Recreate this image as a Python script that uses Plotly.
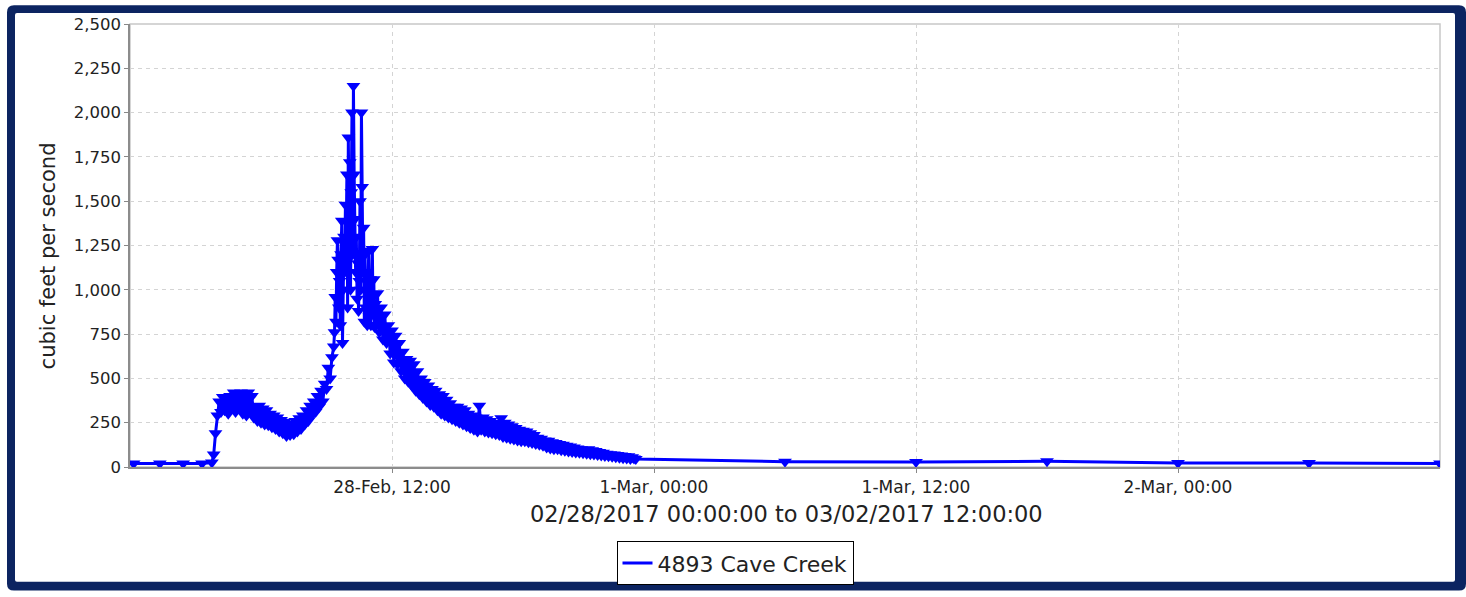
import pandas as pd
import plotly.graph_objects as go

# ---- Streamflow readings, station 4893 Cave Creek (cfs) ----
# sparse readings before the storm arrived
pre_times = ["2017-02-28 00:10", "2017-02-28 01:22", "2017-02-28 02:26", "2017-02-28 03:18"]
pre_flow = [20, 20, 20, 20]

# 5-minute readings on the rising limb, starting 03:45
rise_start = "2017-02-28 03:45"
rise_flow = [
    25, 70, 190,                                                   # 03:45-03:55
    290, 370, 310, 395, 320, 385, 300, 400, 330, 420, 310, 415,    # 04
    330, 420, 300, 410, 290, 420, 310, 400, 280, 340, 260, 345,    # 05
    250, 330, 240, 320, 235, 300, 225, 290, 215, 280, 200, 265,    # 06
    190, 255, 175, 245, 180, 240, 185, 260, 200, 275, 215, 290,    # 07
    240, 320, 260, 345, 290, 370, 310, 400, 340, 430, 370, 470,    # 08
    440, 560, 500, 620,                                            # 09:00-09:15
]

# 2-minute readings around the crest, starting 09:20
crest_start = "2017-02-28 09:20"
crest_flow = [
    680, 760, 960, 820, 1100, 1280, 1170, 900, 1050, 800,
    1200, 1390, 700, 1000, 1300, 1100, 1480, 1250, 1650, 900,
    1860, 1380, 1720, 1000, 1550, 2000, 1200, 2150, 1650, 1400,
    1100, 1300, 950, 1150, 880, 1050, 1500, 1000, 2000, 1580,
    1100, 1350, 820, 1200, 900, 1100, 800, 1000, 1220, 850,
    1060, 800, 950, 1230, 860, 1060, 790, 920, 800, 880,
]

# 5-minute readings on the recession, starting 11:20
fall_start = "2017-02-28 11:20"
fall_flow = [
    980, 760, 900, 720, 860, 700, 800, 640,                        # 11:20-11:55
    770, 590, 740, 580, 700, 540, 650, 500, 610, 480, 600, 460,    # 12
    580, 430, 540, 410, 500, 390, 480, 370, 460, 350, 440, 340,    # 13
    430, 320, 410, 300, 400, 290, 380, 280, 360, 270, 340, 260,    # 14
    340, 250, 330, 240, 320, 230, 300, 220, 290, 210, 280, 200,    # 15
    345, 210, 280, 200, 270, 195, 260, 190, 250, 185, 240, 180,    # 16
    275, 170, 250, 165, 240, 160, 230, 155, 220, 150, 210, 145,    # 17
    205, 145, 200, 140, 190, 135, 180, 130, 165, 125, 160, 120,    # 18
    150, 110, 148, 105, 140, 100, 135, 100, 130, 95, 125, 92,      # 19
    120, 88, 115, 85, 110, 82, 105, 80, 100, 78, 98, 75,           # 20
    100, 72, 95, 70, 90, 68, 85, 65, 80, 62, 75, 60,               # 21
    72, 58, 70, 55, 68, 52, 65, 50, 62, 48, 60, 45,                # 22
    55, 48, 45,                                                    # 23:00-23:10
]

# six-hourly readings on the recession tail
tail_times = ["2017-03-01 06:00", "2017-03-01 12:00", "2017-03-01 18:00",
              "2017-03-02 00:00", "2017-03-02 06:00", "2017-03-02 12:00"]
tail_flow = [30, 28, 32, 22, 22, 20]

# axis labelling
x_ticks = ["2017-02-28 12:00", "2017-03-01 00:00", "2017-03-01 12:00", "2017-03-02 00:00"]
y_ticks = [0, 250, 500, 750, 1000, 1250, 1500, 1750, 2000, 2250, 2500]

times = (list(pd.to_datetime(pre_times))
         + list(pd.date_range(rise_start, periods=len(rise_flow), freq="5min"))
         + list(pd.date_range(crest_start, periods=len(crest_flow), freq="2min"))
         + list(pd.date_range(fall_start, periods=len(fall_flow), freq="5min"))
         + list(pd.to_datetime(tail_times)))
flow = pre_flow + rise_flow + crest_flow + fall_flow + tail_flow

BLUE = "#0000ff"
NAVY = "#0c2461"
W, H = 1466, 597
ML, MR, MT, MB = 130, 26, 24, 125
PW, PH = W - ML - MR, H - MT - MB


def px(x):
    return (x - ML) / PW


def py(y):
    return (H - MB - y) / PH


fig = go.Figure()
fig.add_trace(go.Scatter(
    x=times, y=flow, mode="lines+markers",
    line=dict(color=BLUE, width=3),
    marker=dict(symbol="triangle-down", size=12, color=BLUE),
    showlegend=False, name="4893 Cave Creek",
))
# legend entry drawn as a plain line sample
fig.add_trace(go.Scatter(
    x=[None], y=[None], mode="lines", line=dict(color=BLUE, width=3),
    name="4893 Cave Creek", showlegend=True,
))


# outer rounded navy frame (ring between two rounded rectangles)
def rounded(x0, y0, x1, y1, r):
    X0, X1 = px(x0), px(x1)
    Y0, Y1 = py(y0), py(y1)
    rx, ry = r / PW, r / PH
    return (f"M{X0+rx},{Y0} L{X1-rx},{Y0} Q{X1},{Y0} {X1},{Y0-ry} "
            f"L{X1},{Y1+ry} Q{X1},{Y1} {X1-rx},{Y1} L{X0+rx},{Y1} "
            f"Q{X0},{Y1} {X0},{Y1+ry} L{X0},{Y0-ry} Q{X0},{Y0} {X0+rx},{Y0} Z")


frame_path = rounded(7, 5, 1466, 597, 7) + " " + rounded(15, 13, 1455, 588, 2)

fig.add_shape(type="path", path=frame_path, xref="paper", yref="paper",
              fillcolor=NAVY, line=dict(width=0), fillrule="evenodd", layer="above")
# light border round the plotting area
fig.add_shape(type="rect", xref="paper", yref="paper", x0=0, y0=0, x1=1, y1=1,
              line=dict(color="#c8c8c8", width=1.5), layer="below")

fig.add_annotation(text="cubic feet per second", xref="paper", yref="paper",
                   x=px(48), y=py(259), textangle=-90, showarrow=False,
                   font=dict(size=21, color="#222"), xanchor="center", yanchor="middle")
fig.add_annotation(text="02/28/2017 00:00:00 to 03/02/2017 12:00:00", xref="paper", yref="paper",
                   x=px(786), y=py(520), showarrow=False,
                   font=dict(size=22.5, color="#222"), xanchor="center", yanchor="middle")

fig.update_layout(
    width=W, height=H,
    margin=dict(l=ML, r=MR, t=MT, b=MB),
    paper_bgcolor="white", plot_bgcolor="white",
    font=dict(family="DejaVu Sans", color="#333"),
    showlegend=True,
    legend=dict(x=px(735), y=py(547), xanchor="center", yanchor="top",
                orientation="h", bordercolor="black", borderwidth=1,
                bgcolor="white", font=dict(size=22, color="#222")),
)
fig.update_xaxes(
    type="date", range=["2017-02-28 00:00", "2017-03-02 12:00"],
    tickvals=x_ticks, tickformat="%-d-%b, %H:%M",
    ticks="outside", ticklen=4, tickcolor="#888",
    tickfont=dict(size=17, color="#222"),
    showline=True, linecolor="#8c8c8c", linewidth=1.5,
    showgrid=True, gridcolor="#d4d4d4", griddash="4px,4px", gridwidth=1,
    zeroline=False,
)
fig.update_yaxes(
    range=[0, 2500], tickvals=y_ticks, tickformat=",",
    ticks="outside", ticklen=4, tickcolor="#888",
    tickfont=dict(size=16.5, color="#222"),
    showline=True, linecolor="#8c8c8c", linewidth=1.5,
    showgrid=True, gridcolor="#d4d4d4", griddash="4px,4px", gridwidth=1,
    zeroline=False,
)

fig.write_html("out.html")
